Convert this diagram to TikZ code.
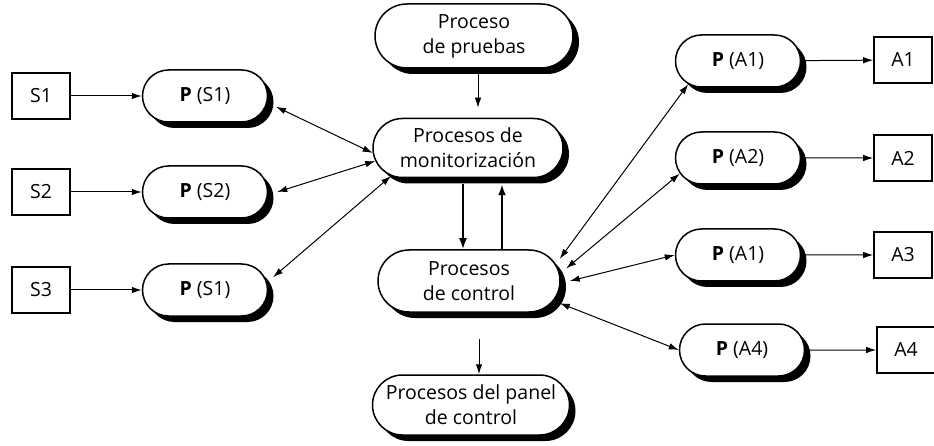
\documentclass[tikz,border=0pt]{standalone}
\usepackage{fontspec}
\setmainfont{Open Sans}
\usetikzlibrary{shapes.misc}
\usetikzlibrary{shadows}
\usetikzlibrary{arrows.meta}

\tikzset{
  proc/.style={rounded rectangle, draw, line width=1.5pt, fill=white,
    align=center, inner sep=0pt,
    drop shadow={shadow xshift=6pt, shadow yshift=-6pt, fill=black, opacity=1}},
  small/.style={proc, minimum width=125pt, minimum height=52pt},
  dev/.style={rectangle, draw, line width=1.7pt, minimum width=58pt,
    minimum height=46pt, inner sep=0pt},
  link/.style={line width=1pt, -{Latex[length=10pt,width=6.5pt]}},
  blink/.style={line width=1pt,
    {Latex[length=10pt,width=6.5pt]}-{Latex[length=10pt,width=6.5pt]}},
  thick link/.style={line width=2.2pt, -{Latex[length=11pt,width=8pt]}}
}

\begin{document}
\begin{tikzpicture}[x=1pt, y=-1pt, font=\fontsize{19.5}{25}\selectfont]

\useasboundingbox (0,0) rectangle (934,446);

%---------------------------------------
% Sensors (left)
%---------------------------------------
\node[dev] (s1) at (41,96) {S1};
\node[dev] (s2) at (41,192) {S2};
\node[dev] (s3) at (41,290) {S3};

\node[small] (ps1) at (205,96) {\textbf{P} (S1)};
\node[small] (ps2) at (205,192) {\textbf{P} (S2)};
\node[small] (ps3) at (205,290) {\textbf{P} (S1)};

%---------------------------------------
% Central processes
%---------------------------------------
\node[proc, minimum width=198pt, minimum height=64pt] (prueba) at (474,36)
  {Proceso\\de pruebas};
\node[proc, minimum width=190pt, minimum height=59pt] (mon) at (468,148)
  {Procesos de\\monitorización};
\node[proc, minimum width=182pt, minimum height=62pt] (ctl) at (469,281)
  {Procesos\\de control};
\node[proc, minimum width=197pt, minimum height=60pt] (panel) at (471,405)
  {Procesos del panel\\de control};

%---------------------------------------
% Actuators (right)
%---------------------------------------
\node[small] (pa1) at (738,61) {\textbf{P} (A1)};
\node[small] (pa2) at (738,158) {\textbf{P} (A2)};
\node[small] (pa3) at (738,255) {\textbf{P} (A1)};
\node[small] (pa4) at (742,350) {\textbf{P} (A4)};

\node[dev] (a1) at (903,60) {A1};
\node[dev] (a2) at (903,158) {A2};
\node[dev] (a3) at (903,255) {A3};
\node[dev] (a4) at (906,350) {A4};

%---------------------------------------
% Connectors
%---------------------------------------
\draw[link] (s1) -- (ps1);
\draw[link] (s2) -- (ps2);
\draw[link] (s3) -- (ps3);

\draw[blink] ([xshift=10pt]ps1.-10) -- (mon.183);
\draw[blink] ([xshift=9pt]ps2.east) -- (mon.188);
\draw[blink] ([xshift=8pt]ps3.12) -- (mon.200);

\draw[link, shorten <=4pt, shorten >=10pt] ([xshift=4pt]prueba.south)
  -- ([xshift=4pt]prueba.south |- mon.north);
\draw[thick link, shorten <=6pt] ([xshift=-5pt]mon.south)
  -- ([xshift=-5pt]mon.south |- ctl.north);
\draw[thick link, shorten >=6pt] ([xshift=34pt]mon.south |- ctl.north)
  -- ([xshift=34pt]mon.south);
\draw[link, shorten <=26pt] ([xshift=10pt]ctl.south)
  -- ([xshift=10pt]ctl.south |- panel.north);

\draw[blink] ([xshift=8pt]ctl.15) -- (pa1.205);
\draw[blink] ([xshift=8pt]ctl.8) -- (pa2.195);
\draw[blink] ([xshift=9pt]ctl.east) -- (pa3.west);
\draw[blink] ([xshift=8pt]ctl.-15) -- (pa4.west);

\draw[link] (pa1) -- (a1);
\draw[link] (pa2) -- (a2);
\draw[link] (pa3) -- (a3);
\draw[link] (pa4) -- (a4);

\end{tikzpicture}
\end{document}
